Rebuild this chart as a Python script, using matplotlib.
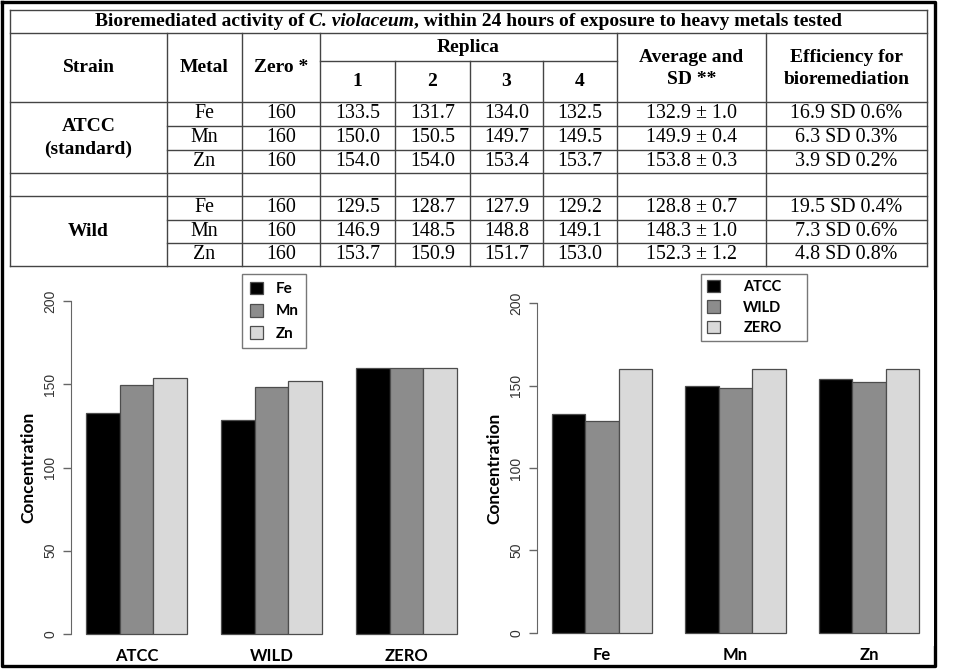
import matplotlib
matplotlib.use('Agg')
import matplotlib.pyplot as plt
from matplotlib.patches import Patch

# ---- data ----
strains = ['ATCC', 'WILD', 'ZERO']
metals = ['Fe', 'Mn', 'Zn']
atcc_avg = [132.9, 149.9, 153.8]
wild_avg = [128.8, 148.3, 152.3]
zero_avg = [160, 160, 160]

table_strains = ['ATCC\n(standard)', 'Wild']
zero_vals = [160, 160, 160]
atcc_rep = [[133.5, 131.7, 134.0, 132.5],
            [150.0, 150.5, 149.7, 149.5],
            [154.0, 154.0, 153.4, 153.7]]
wild_rep = [[129.5, 128.7, 127.9, 129.2],
            [146.9, 148.5, 148.8, 149.1],
            [153.7, 150.9, 151.7, 153.0]]
atcc_sd = [1.0, 0.4, 0.3]
wild_sd = [0.7, 1.0, 1.2]
atcc_eff = [16.9, 6.3, 3.9]
atcc_eff_sd = [0.6, 0.3, 0.2]
wild_eff = [19.5, 7.3, 4.8]
wild_eff_sd = [0.4, 0.6, 0.8]

bar_colors = ['#000000', '#8c8c8c', '#d9d9d9']
serif = 'Liberation Serif'
sans = 'Lato'

fig = plt.figure(figsize=(9.6, 6.69), dpi=100)
bg = fig.add_axes([0, 0, 1, 1])
bg.set_xlim(0, 960)
bg.set_ylim(669, 0)
bg.axis('off')

# outer frame
bg.plot([1.5, 935, 935, 1.5, 1.5], [1.5, 1.5, 666, 666, 1.5], color='black', lw=2.4)

# ---- table grid ----
lc = '#444444'
L, R = 10, 927
cols = [10, 167, 242, 320, 617, 766, 927]
rep_cols = [395, 470, 543]
for y in [10, 33, 102, 173, 196, 266]:
    bg.plot([L, R], [y, y], color=lc, lw=1.0)
bg.plot([320, 617], [61, 61], color=lc, lw=1.0)
for y in [126, 150, 220, 243]:
    bg.plot([167, R], [y, y], color=lc, lw=1.0)
for x in [L, R]:
    bg.plot([x, x], [10, 266], color=lc, lw=1.0)
for x in cols[1:-1]:
    bg.plot([x, x], [33, 266], color=lc, lw=1.0)
for x in rep_cols:
    bg.plot([x, x], [61, 266], color=lc, lw=1.0)

# title with italic species name
pieces = [('Bioremediated activity of ', 'normal'),
          ('C. violaceum', 'italic'),
          (', within 24 hours of exposure to heavy metals tested', 'normal')]
rend = fig.canvas.get_renderer()
txts = []
for s, st in pieces:
    t = bg.text(0, 22, s, family=serif, weight='bold', style=st, fontsize=14,
                va='center', ha='left')
    txts.append(t)
widths = [t.get_window_extent(rend).width for t in txts]
x0 = (L + R) / 2 - sum(widths) / 2
for t, w in zip(txts, widths):
    t.set_x(x0)
    x0 += w

hk = dict(family=serif, weight='bold', fontsize=14, ha='center', va='center')
bg.text(88.5, 68, 'Strain', **hk)
bg.text(204.5, 68, 'Metal', **hk)
bg.text(281, 68, 'Zero *', **hk)
bg.text(468.5, 47, 'Replica', **hk)
rep_x = [357.5, 432.5, 506.5, 580]
for i, x in enumerate(rep_x):
    bg.text(x, 82, str(i + 1), **hk)
bg.text(691.5, 68.5, 'Average and\nSD **', linespacing=1.38, **hk)
bg.text(846.5, 68.5, 'Efficiency for\nbioremediation', linespacing=1.38, **hk)

ck = dict(family=serif, fontsize=14.4, ha='center', va='center')
blocks = [(table_strains[0], atcc_rep, atcc_avg, atcc_sd, atcc_eff, atcc_eff_sd, [114, 138, 161.5]),
          (table_strains[1], wild_rep, wild_avg, wild_sd, wild_eff, wild_eff_sd, [208, 231.5, 254.5])]
for name, reps, avg, sd, eff, effsd, ys in blocks:
    bg.text(88.5, ys[1], name, family=serif, weight='bold', fontsize=14,
            ha='center', va='center', linespacing=1.38)
    for k, y in enumerate(ys):
        bg.text(204.5, y, metals[k], **ck)
        bg.text(281, y, str(zero_vals[k]), **ck)
        for i, x in enumerate(rep_x):
            bg.text(x, y, '%.1f' % reps[k][i], **ck)
        bg.text(691.5, y, '%.1f \u00b1 %.1f' % (avg[k], sd[k]), **ck)
        bg.text(846.5, y, '%.1f SD %.1f%%' % (eff[k], effsd[k]), **ck)


# ---- bar charts ----
def barchart(ax, heights, labels):
    for g in range(3):
        for j in range(3):
            ax.bar(1 + g * 4 + j, heights[g][j], width=1, align='edge',
                   color=bar_colors[j], edgecolor='#4d4d4d', lw=0.9)
    ax.set_xlim(0.56, 12.44)
    ax.set_ylim(-8, 208)
    for s in ['top', 'right', 'bottom']:
        ax.spines[s].set_visible(False)
    ax.spines['left'].set_bounds(0, 200)
    ax.spines['left'].set_color('#666666')
    ax.set_yticks([0, 50, 100, 150, 200])
    ax.tick_params(axis='y', length=6, width=1, color='#666666', labelsize=10,
                   labelcolor='#333333', pad=4)
    for t in ax.get_yticklabels():
        t.set_rotation(90)
        t.set_va('center')
        t.set_family('Liberation Sans')
    ax.set_xticks([2.5, 6.5, 10.5])
    ax.set_xticklabels(labels, family=sans, weight='bold', fontsize=12)
    ax.tick_params(axis='x', length=0, pad=1)
    ax.set_ylabel('Concentration', family=sans, weight='bold', fontsize=12.5, labelpad=5)
    return [Patch(facecolor=bar_colors[j], edgecolor='#4d4d4d', lw=0.9) for j in range(3)]


ax1 = fig.add_axes([71 / 960, 22 / 669, 401 / 960, 359 / 669])
h1 = barchart(ax1, [atcc_avg, wild_avg, zero_avg], strains)
leg1 = ax1.legend(h1, metals, loc='upper left', bbox_to_anchor=(242 / 960, 1 - 274 / 669),
                  bbox_transform=fig.transFigure, frameon=True, fancybox=False,
                  edgecolor='#555555', borderpad=0.5, handlelength=0.9, handleheight=0.9,
                  handletextpad=0.8, labelspacing=0.5, borderaxespad=0,
                  prop=dict(family=sans, weight='bold', size=11))
leg1.get_frame().set_linewidth(1.0)

by_metal = [[atcc_avg[m], wild_avg[m], zero_avg[m]] for m in range(3)]
ax2 = fig.add_axes([537 / 960, 23 / 669, 397 / 960, 356 / 669])
h2 = barchart(ax2, by_metal, metals)
leg2 = ax2.legend(h2, strains, loc='upper left',
                  bbox_to_anchor=(701 / 960, 1 - 341 / 669, 106 / 960, 67 / 669),
                  mode='expand', bbox_transform=fig.transFigure, frameon=True, fancybox=False,
                  edgecolor='#555555', borderpad=0.4, handlelength=0.9, handleheight=0.9,
                  handletextpad=1.6, labelspacing=0.45, borderaxespad=0,
                  prop=dict(family=sans, weight='bold', size=10.5))
leg2.get_frame().set_linewidth(1.0)

fig.savefig('out.png', dpi=100)
